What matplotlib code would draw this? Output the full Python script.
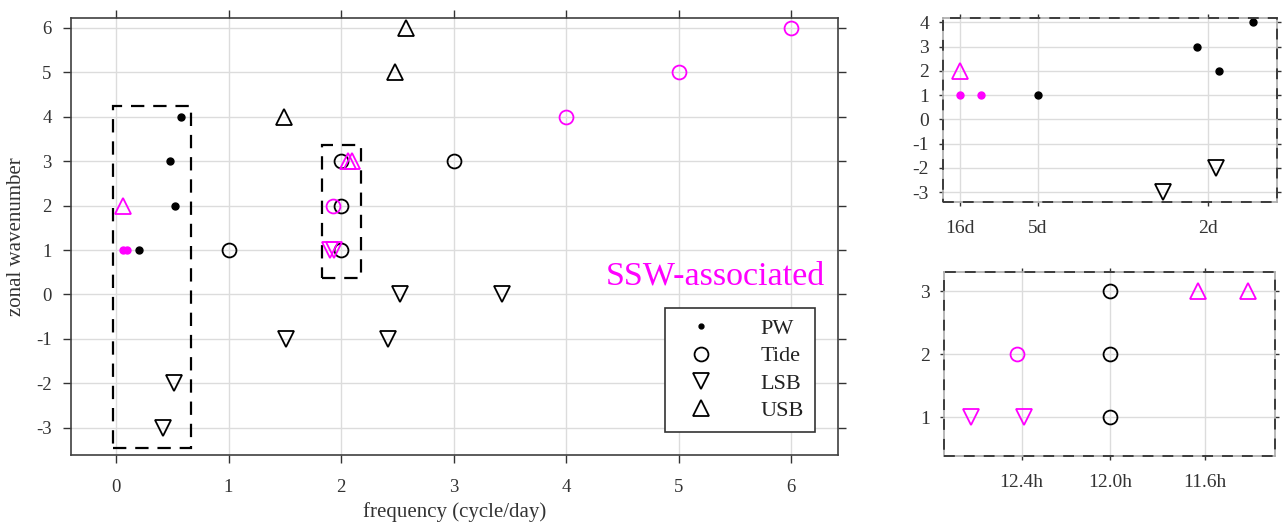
import matplotlib
matplotlib.use("Agg")
import matplotlib.pyplot as plt
from matplotlib.lines import Line2D
from matplotlib.patches import Rectangle

plt.rcParams["font.family"] = ["Liberation Serif", "DejaVu Serif"]
plt.rcParams["axes.unicode_minus"] = False

# ---------------------------------------------------------------------------
# Data: frequency (cycle/day) and zonal wavenumber per wave type
# ---------------------------------------------------------------------------
pw_freq = [0.2, 0.48, 0.52, 0.58]
pw_k = [1, 3, 2, 4]
pw_ssw_freq = [0.0625, 0.1]
pw_ssw_k = [1, 1]

tide_freq = [1, 2, 2, 2, 3]
tide_k = [1, 1, 2, 3, 3]
tide_ssw_freq = [1.932, 4, 5, 6]
tide_ssw_k = [2, 4, 5, 6]

lsb_freq = [0.42, 0.515, 1.51, 2.42, 2.52, 3.43]
lsb_k = [-3, -2, -1, -1, 0, 0]
lsb_ssw_freq = [1.899, 1.937]
lsb_ssw_k = [1, 1]

usb_freq = [1.49, 2.48, 2.58]
usb_k = [4, 5, 6]
usb_ssw_freq = [0.0625, 2.064, 2.10]
usb_ssw_k = [2, 3, 3]

main_xticks = [0, 1, 2, 3, 4, 5, 6]
main_yticks = [-3, -2, -1, 0, 1, 2, 3, 4, 5, 6]
low_xticks = [1 / 16, 1 / 5, 1 / 2]
low_xlabels = ["16d", "5d", "2d"]
low_yticks = [-3, -2, -1, 0, 1, 2, 3, 4]
semi_xticks = [24 / 12.4, 24 / 12.0, 24 / 11.6]
semi_xlabels = ["12.4h", "12.0h", "11.6h"]
semi_yticks = [1, 2, 3]

MAG = "#ff00ff"
TXT = "#333333"


def draw_points(ax):
    ax.plot(pw_freq, pw_k, "o", color="k", ms=5, zorder=5)
    ax.plot(pw_ssw_freq, pw_ssw_k, "o", color=MAG, ms=5, zorder=5)
    kw = dict(ls="none", mfc="none", mew=1.3, zorder=5)
    ax.plot(tide_freq, tide_k, "o", mec="k", ms=10, **kw)
    ax.plot(tide_ssw_freq, tide_ssw_k, "o", mec=MAG, ms=10, **kw)
    ax.plot(lsb_freq, lsb_k, "v", mec="k", ms=11.5, **kw)
    ax.plot(lsb_ssw_freq, lsb_ssw_k, "v", mec=MAG, ms=11.5, **kw)
    ax.plot(usb_freq, usb_k, "^", mec="k", ms=11.5, **kw)
    ax.plot(usb_ssw_freq, usb_ssw_k, "^", mec=MAG, ms=11.5, **kw)


def style_axes(ax, spine_color, tick_len, size, xpad, ypad):
    ax.grid(True, color="#dcdcdc", lw=1.0, zorder=0)
    ax.set_axisbelow(True)
    for s in ax.spines.values():
        s.set_color(spine_color)
        s.set_linewidth(1.2)
    ax.tick_params(direction="out", length=tick_len, width=1.0, color="#333333",
                   top=True, right=True, labelsize=size, labelcolor=TXT)
    ax.tick_params(axis="x", pad=xpad)
    ax.tick_params(axis="y", pad=ypad)


fig = plt.figure(figsize=(12.87, 5.25), dpi=100)

# ---- main panel ----
ax = fig.add_axes([0.0552, 0.1333, 0.596, 0.8324])
style_axes(ax, "#404040", 6, 13.5, 11, 8)
draw_points(ax)
ax.set_xlim(-0.4, 6.418)
ax.set_ylim(-3.617, 6.225)
ax.set_xticks(main_xticks)
ax.set_yticks(main_yticks)
ax.set_xlabel("frequency (cycle/day)", fontsize=15, color=TXT, labelpad=5)
ax.set_ylabel("zonal wavenumber", fontsize=15, color=TXT, labelpad=7)

for (x0, x1, y0, y1) in [(-0.03, 0.67, -3.45, 4.25), (1.83, 2.18, 0.36, 3.36)]:
    ax.add_patch(Rectangle((x0, y0), x1 - x0, y1 - y0, fill=False, ec="k",
                           lw=1.6, ls=(0, (6, 4)), zorder=4))

ax.text(6.30, 0.40, "SSW-associated", color=MAG, fontsize=24.5,
        ha="right", va="center")

handles = [
    Line2D([], [], ls="none", marker="o", color="k", ms=3.5),
    Line2D([], [], ls="none", marker="o", mec="k", mfc="none", mew=1.3, ms=10),
    Line2D([], [], ls="none", marker="v", mec="k", mfc="none", mew=1.3, ms=11),
    Line2D([], [], ls="none", marker="^", mec="k", mfc="none", mew=1.3, ms=11),
]
leg = ax.legend(handles, ["PW", "Tide", "LSB", "USB"], loc="lower right",
                bbox_to_anchor=(0.970, 0.0526), fontsize=16, frameon=True,
                fancybox=False, edgecolor="#333333", framealpha=1,
                handletextpad=1.6, handlelength=2.2, labelspacing=0.3,
                borderpad=0.5, borderaxespad=0)
leg.get_frame().set_linewidth(1.2)
for t in leg.get_texts():
    t.set_color("#222222")

# ---- inset: planetary waves / low frequency ----
ax1 = fig.add_axes([0.7327, 0.6152, 0.2595, 0.3505])
style_axes(ax1, "#aaaaaa", 3, 14, 10, 7)
draw_points(ax1)
ax1.set_xlim(0.032, 0.622)
ax1.set_ylim(-3.41, 4.18)
ax1.set_xticks(low_xticks)
ax1.set_xticklabels(low_xlabels)
ax1.set_yticks(low_yticks)
ax1.add_patch(Rectangle((0, 0), 1, 1, transform=ax1.transAxes, fill=False,
                        ec="#333333", lw=1.3, ls=(0, (6, 5)), zorder=6,
                        clip_on=False))

# ---- inset: semidiurnal band ----
ax2 = fig.add_axes([0.7335, 0.1314, 0.2572, 0.3505])
style_axes(ax2, "#aaaaaa", 3, 14, 10, 7)
draw_points(ax2)
ax2.set_xlim(1.879, 2.12)
ax2.set_ylim(0.38, 3.31)
ax2.set_xticks(semi_xticks)
ax2.set_xticklabels(semi_xlabels)
ax2.set_yticks(semi_yticks)
ax2.add_patch(Rectangle((0, 0), 1, 1, transform=ax2.transAxes, fill=False,
                        ec="#333333", lw=1.3, ls=(0, (6, 5)), zorder=6,
                        clip_on=False))

fig.savefig("out.png", dpi=100)
